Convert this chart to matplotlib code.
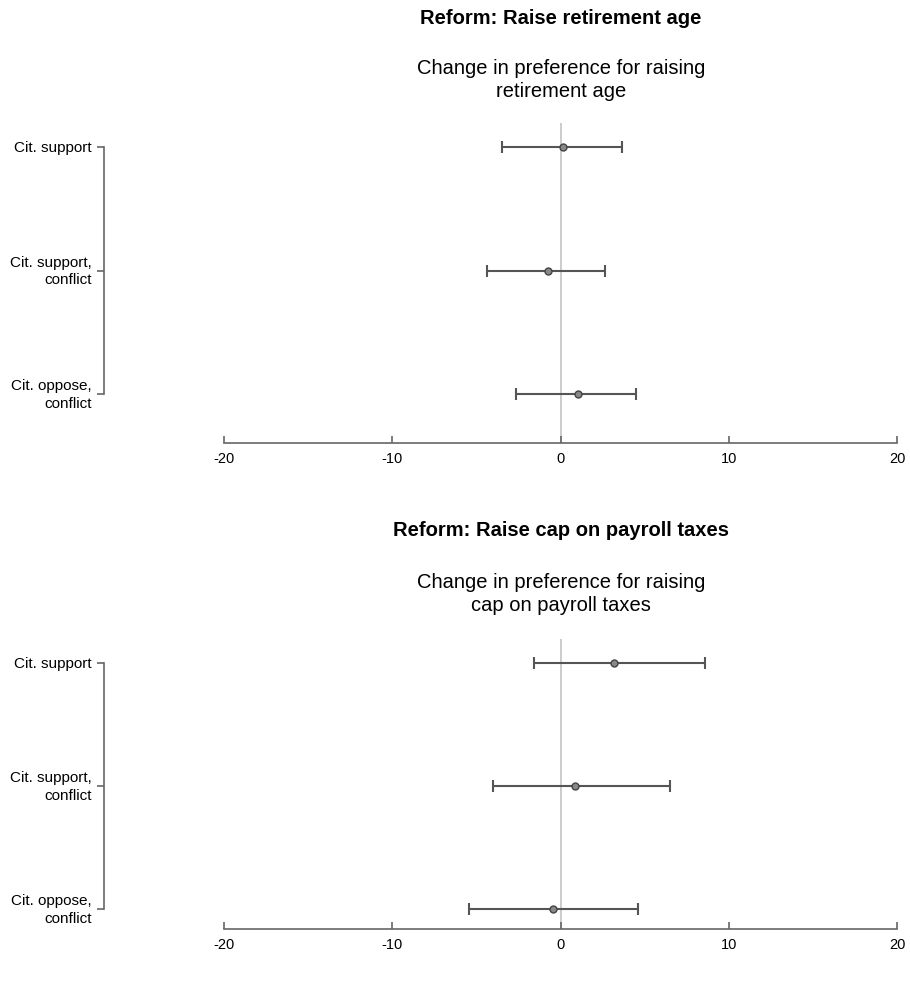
import matplotlib.pyplot as plt

plt.rcParams['font.family'] = ['Liberation Sans', 'DejaVu Sans']

# Data
conditions = ['Cit. support', 'Cit. support,\nconflict', 'Cit. oppose,\nconflict']

age_est = [0.17, -0.76, 1.06]
age_lo = [-3.48, -4.36, -2.63]
age_hi = [3.64, 2.63, 4.49]

cap_est = [3.2, 0.88, -0.45]
cap_lo = [-1.6, -4.02, -5.43]
cap_hi = [8.56, 6.5, 4.61]

x_ticks = [-20, -10, 0, 10, 20]

panels = [
    ('Reform: Raise retirement age', 'Change in preference for raising\nretirement age',
     age_est, age_lo, age_hi),
    ('Reform: Raise cap on payroll taxes', 'Change in preference for raising\ncap on payroll taxes',
     cap_est, cap_lo, cap_hi),
]

W, H = 910, 987
fig = plt.figure(figsize=(W / 100, H / 100), dpi=100)

# pixel layout: (axis y, top y, row1 y, row3 y, title y, subtitle y)
layout = [
    (444, 124, 148, 395, 18, 80),
    (930, 640, 664, 910, 530, 594),
]
x_left, x_right = 224, 897
grey = '#666666'

for (title, sub, est, lo, hi), (y_ax, y_top, y_r1, y_r3, y_t, y_s) in zip(panels, layout):
    ax = fig.add_axes([x_left / W, 1 - y_ax / H, (x_right - x_left) / W, (y_ax - y_top) / H])
    step = (y_r3 - y_r1) / 2
    ax.set_ylim(3 + (y_ax - y_r3) / step, 1 - (y_r1 - y_top) / step)
    ax.set_xlim(-20, 20)
    ypos = [1, 2, 3]

    ax.axvline(0, color='#c8c8c8', lw=1.3, zorder=1)
    err = [[e - l for e, l in zip(est, lo)], [h - e for e, h in zip(est, hi)]]
    ax.errorbar(est, ypos, xerr=err, fmt='o', color='#555555', ecolor='#555555',
                elinewidth=1.5, capsize=4, capthick=1.5, markersize=5,
                markerfacecolor='#888888', markeredgecolor='#444444', zorder=3)

    for s in ['top', 'right']:
        ax.spines[s].set_visible(False)
    ax.spines['left'].set_position(('axes', (104 - x_left) / (x_right - x_left)))
    ax.spines['left'].set_bounds(1, 3)
    ax.spines['bottom'].set_bounds(-20, 20)
    for s in ['left', 'bottom']:
        ax.spines[s].set_color(grey)
        ax.spines[s].set_linewidth(1.2)

    ax.set_yticks(ypos)
    ax.set_yticklabels(conditions, fontsize=11, va='center', linespacing=1.35)
    ax.tick_params(axis='y', length=5, width=1.2, color=grey, pad=4)
    ax.set_xticks(x_ticks)
    ax.set_xticklabels([str(t) for t in x_ticks], fontsize=10.5)
    ax.tick_params(axis='x', direction='in', length=5, width=1.2, color=grey, pad=6)

    fig.text(561 / W, 1 - y_t / H, title, ha='center', va='center',
             fontsize=14.5, fontweight='bold')
    fig.text(561 / W, 1 - y_s / H, sub, ha='center', va='center',
             fontsize=14.5, linespacing=1.3)

fig.savefig('out.png', dpi=100)
